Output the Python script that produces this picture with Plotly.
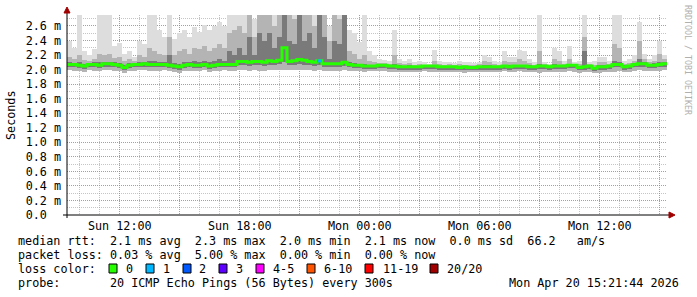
import plotly.graph_objects as go
import pandas as pd

# ---------------- data ----------------
START = "2026-04-19 09:21:44"
END = "2026-04-20 15:21:44"
STEP_MINUTES = 15

median = [
    2.07, 2.07, 2.06, 2.05, 2.07, 2.07, 2.06, 2.08, 2.08, 2.07,
    2.06, 2.03, 2.06, 2.07, 2.07, 2.08, 2.07, 2.07, 2.07, 2.07,
    2.06, 2.05, 2.04, 2.06, 2.07, 2.06, 2.06, 2.07, 2.05, 2.06,
    2.07, 2.07, 2.07, 2.07, 2.11, 2.11, 2.10, 2.11, 2.11, 2.10,
    2.12, 2.11, 2.13, 2.30, 2.11, 2.12, 2.14, 2.13, 2.11, 2.10,
    2.12, 2.08, 2.08, 2.08, 2.08, 2.10, 2.07, 2.06, 2.06, 2.05,
    2.05, 2.05, 2.06, 2.06, 2.05, 2.05, 2.04, 2.04, 2.04, 2.04,
    2.04, 2.05, 2.05, 2.05, 2.04, 2.04, 2.04, 2.04, 2.03, 2.04,
    2.03, 2.03, 2.04, 2.04, 2.04, 2.04, 2.04, 2.05, 2.04, 2.05,
    2.05, 2.05, 2.04, 2.04, 2.05, 2.05, 2.04, 2.05, 2.05, 2.05,
    2.06, 2.06, 2.03, 2.04, 2.05, 2.02, 2.04, 2.04, 2.05, 2.07,
    2.07, 2.04, 2.05, 2.07, 2.08, 2.08, 2.06, 2.06, 2.07, 2.08,
]

smoke_lo = [
    1.99, 1.98, 1.98, 1.97, 1.99, 1.98, 1.98, 1.99, 1.99, 1.98,
    1.98, 1.96, 1.98, 1.98, 1.99, 1.99, 1.98, 1.98, 1.98, 1.99,
    1.98, 1.97, 1.96, 1.98, 1.98, 1.98, 1.98, 1.99, 1.97, 1.98,
    1.98, 1.99, 1.98, 1.98, 1.99, 1.99, 1.98, 1.99, 1.98, 1.98,
    1.99, 1.99, 2.00, 1.99, 1.99, 1.99, 2.00, 1.99, 1.99, 1.98,
    1.99, 1.98, 1.98, 1.98, 1.98, 1.99, 1.98, 1.98, 1.98, 1.97,
    1.98, 1.98, 1.98, 1.98, 1.97, 1.97, 1.97, 1.97, 1.97, 1.97,
    1.97, 1.98, 1.97, 1.97, 1.97, 1.97, 1.97, 1.97, 1.97, 1.96,
    1.97, 1.97, 1.97, 1.97, 1.97, 1.97, 1.97, 1.98, 1.97, 1.97,
    1.98, 1.97, 1.97, 1.97, 1.96, 1.97, 1.97, 1.97, 1.97, 1.97,
    1.98, 1.97, 1.96, 1.97, 1.97, 1.95, 1.96, 1.97, 1.97, 1.97,
    1.98, 1.97, 1.97, 1.98, 1.99, 1.98, 1.98, 1.98, 1.98, 1.99,
]

smoke_hi = [
    2.39, 2.30, 2.80, 2.25, 2.20, 2.28, 2.80, 2.80, 2.80, 2.32,
    2.36, 2.22, 2.25, 2.18, 2.40, 2.35, 2.80, 2.80, 2.55, 2.45,
    2.80, 2.42, 2.50, 2.55, 2.45, 2.58, 2.52, 2.62, 2.55, 2.60,
    2.65, 2.60, 2.80, 2.80, 2.80, 2.80, 2.80, 2.70, 2.80, 2.80,
    2.80, 2.80, 2.80, 2.80, 2.80, 2.80, 2.80, 2.80, 2.80, 2.80,
    2.80, 2.80, 2.60, 2.80, 2.80, 2.80, 2.55, 2.50, 2.38, 2.80,
    2.25, 2.20, 2.15, 2.13, 2.12, 2.55, 2.15, 2.12, 2.14, 2.10,
    2.12, 2.10, 2.08, 2.27, 2.12, 2.10, 2.11, 2.09, 2.12, 2.10,
    2.10, 2.09, 2.11, 2.20, 2.17, 2.12, 2.10, 2.25, 2.18, 2.17,
    2.27, 2.25, 2.15, 2.10, 2.80, 2.10, 2.08, 2.30, 2.25, 2.12,
    2.33, 2.10, 2.12, 2.80, 2.10, 2.12, 2.18, 2.17, 2.12, 2.80,
    2.80, 2.12, 2.14, 2.20, 2.65, 2.22, 2.15, 2.20, 2.39, 2.20,
]

mid_hi = [
    2.18, 2.15, 2.20, 2.13, 2.12, 2.15, 2.22, 2.20, 2.22, 2.16,
    2.18, 2.12, 2.14, 2.12, 2.20, 2.18, 2.30, 2.25, 2.22, 2.20,
    2.45, 2.20, 2.25, 2.28, 2.22, 2.30, 2.28, 2.32, 2.25, 2.30,
    2.35, 2.30, 2.50, 2.55, 2.60, 2.50, 2.80, 2.45, 2.80, 2.80,
    2.80, 2.60, 2.80, 2.80, 2.80, 2.70, 2.80, 2.80, 2.80, 2.60,
    2.80, 2.80, 2.40, 2.80, 2.70, 2.80, 2.25, 2.22, 2.15, 2.20,
    2.12, 2.10, 2.09, 2.09, 2.08, 2.20, 2.09, 2.08, 2.09, 2.07,
    2.08, 2.07, 2.07, 2.12, 2.08, 2.07, 2.08, 2.07, 2.08, 2.07,
    2.07, 2.07, 2.08, 2.12, 2.10, 2.08, 2.07, 2.12, 2.10, 2.10,
    2.14, 2.12, 2.09, 2.07, 2.25, 2.08, 2.06, 2.15, 2.12, 2.08,
    2.15, 2.08, 2.08, 2.45, 2.08, 2.07, 2.10, 2.10, 2.08, 2.35,
    2.30, 2.08, 2.09, 2.12, 2.40, 2.14, 2.10, 2.12, 2.22, 2.14,
]

dark_lo = [
    2.03, 2.03, 2.02, 2.01, 2.03, 2.03, 2.02, 2.04, 2.04, 2.03,
    2.02, 2.00, 2.02, 2.03, 2.03, 2.04, 2.03, 2.03, 2.03, 2.03,
    2.02, 2.01, 2.00, 2.02, 2.03, 2.02, 2.02, 2.03, 2.01, 2.02,
    2.03, 2.03, 2.03, 2.03, 2.06, 2.06, 2.05, 2.06, 2.06, 2.05,
    2.07, 2.06, 2.08, 2.10, 2.06, 2.07, 2.08, 2.07, 2.06, 2.05,
    2.06, 2.04, 2.04, 2.04, 2.04, 2.05, 2.03, 2.02, 2.02, 2.01,
    2.01, 2.01, 2.02, 2.02, 2.01, 2.01, 2.00, 2.00, 2.00, 2.00,
    2.00, 2.01, 2.01, 2.01, 2.00, 2.00, 2.00, 2.00, 1.99, 2.00,
    1.99, 1.99, 2.00, 2.00, 2.00, 2.00, 2.00, 2.01, 2.00, 2.01,
    2.01, 2.01, 2.00, 2.00, 2.01, 2.01, 2.00, 2.01, 2.01, 2.01,
    2.02, 2.02, 1.99, 2.00, 2.01, 1.98, 2.00, 2.00, 2.01, 2.03,
    2.03, 2.00, 2.01, 2.03, 2.04, 2.04, 2.02, 2.02, 2.03, 2.04,
]

dark_hi = [
    2.10, 2.09, 2.10, 2.08, 2.09, 2.10, 2.10, 2.11, 2.11, 2.10,
    2.09, 2.07, 2.09, 2.09, 2.10, 2.11, 2.12, 2.12, 2.11, 2.10,
    2.20, 2.09, 2.08, 2.10, 2.10, 2.12, 2.10, 2.12, 2.10, 2.12,
    2.15, 2.12, 2.25, 2.20, 2.30, 2.20, 2.45, 2.20, 2.50, 2.40,
    2.50, 2.30, 2.45, 2.80, 2.40, 2.35, 2.80, 2.40, 2.50, 2.30,
    2.80, 2.45, 2.15, 2.40, 2.35, 2.80, 2.10, 2.09, 2.08, 2.08,
    2.07, 2.07, 2.07, 2.07, 2.06, 2.08, 2.06, 2.05, 2.06, 2.05,
    2.05, 2.06, 2.06, 2.07, 2.05, 2.05, 2.05, 2.05, 2.05, 2.05,
    2.05, 2.05, 2.05, 2.06, 2.06, 2.05, 2.05, 2.07, 2.06, 2.06,
    2.07, 2.07, 2.06, 2.05, 2.08, 2.06, 2.05, 2.08, 2.07, 2.06,
    2.08, 2.07, 2.05, 2.25, 2.06, 2.04, 2.06, 2.06, 2.06, 2.12,
    2.10, 2.06, 2.06, 2.09, 2.15, 2.10, 2.08, 2.09, 2.10, 2.10,
]

# lost pings (out of 20) per bin
loss = [0] * 50 + [1] + [0] * 69

x_tick_times = ["2026-04-19 12:00", "2026-04-19 15:00", "2026-04-19 18:00",
                "2026-04-19 21:00", "2026-04-20 00:00", "2026-04-20 03:00",
                "2026-04-20 06:00", "2026-04-20 09:00", "2026-04-20 12:00",
                "2026-04-20 15:00"]
x_tick_labels = ["Sun 12:00", "", "Sun 18:00", "", "Mon 00:00", "",
                 "Mon 06:00", "", "Mon 12:00", ""]
y_tick_vals = [0.0, 0.2, 0.4, 0.6, 0.8, 1.0, 1.2, 1.4, 1.6, 1.8, 2.0, 2.2, 2.4, 2.6]
y_tick_labels = ["0.0\u00a0\u00a0", "0.2 m", "0.4 m", "0.6 m", "0.8 m", "1.0 m", "1.2 m",
                 "1.4 m", "1.6 m", "1.8 m", "2.0 m", "2.2 m", "2.4 m", "2.6 m"]

loss_colors = ["#26ff00", "#00b8ff", "#0059ff", "#5e00ff", "#ff00ff", "#ff5500", "#ff0000", "#a00000"]
loss_labels = ["0", "1", "2", "3", "4-5", "6-10", "11-19", "20/20"]

stat_lines = [
    "median rtt:  2.1 ms avg  2.3 ms max  2.0 ms min  2.1 ms now  0.0 ms sd  66.2   am/s",
    "packet loss: 0.03 % avg  5.00 % max  0.00 % min  0.00 % now",
]
probe_line = "probe:       20 ICMP Echo Pings (56 Bytes) every 300s"
stamp_text = "Mon Apr 20 15:21:44 2026"

# ---------------- figure ----------------
W, H = 697, 297
L, R, T, B = 67, 667, 15, 215  # plot box in pixels
MONO = "DejaVu Sans Mono"
FS = 11.75

step = pd.Timedelta(minutes=STEP_MINUTES)
t0 = pd.Timestamp(START)
n = len(median)
starts = [t0 + i * step for i in range(n)]
centers = [s + step / 2 for s in starts]
width_ms = STEP_MINUTES * 60 * 1000


def px(x):
    return (x - L) / (R - L)


def py(y):
    return (B - y) / (B - T)


fig = go.Figure()

for lo_arr, hi_arr, col in [(smoke_lo, smoke_hi, "#dddddd"),
                            (smoke_lo, mid_hi, "#b4b4b4"),
                            (dark_lo, dark_hi, "#7a7a7a")]:
    fig.add_trace(go.Bar(
        x=centers, base=lo_arr, y=[h - l for l, h in zip(lo_arr, hi_arr)],
        width=width_ms, marker=dict(color=col, line=dict(width=0)),
        showlegend=False, hoverinfo="skip"))

# median line, green
fig.add_trace(go.Scatter(
    x=starts + [starts[-1] + step], y=median + [median[-1]],
    mode="lines", line=dict(color=loss_colors[0], width=3, shape="hv"),
    showlegend=False, hoverinfo="skip"))

# loss-coloured segments
for i, lv in enumerate(loss):
    if lv > 0:
        fig.add_trace(go.Scatter(
            x=[starts[i], starts[i] + step], y=[median[i], median[i]],
            mode="lines", line=dict(color=loss_colors[min(lv, 3)], width=3),
            showlegend=False, hoverinfo="skip"))

major_grid = "rgba(230,90,90,0.55)"
minor_grid = "rgba(150,150,150,0.55)"

fig.update_xaxes(
    type="date", range=[START, END],
    tickmode="array", tickvals=x_tick_times, ticktext=x_tick_labels,
    showgrid=True, gridcolor=major_grid, gridwidth=1, griddash="1px,1px",
    minor=dict(tickmode="linear", tick0="2026-04-19 00:00", dtick=3600000,
               showgrid=True, gridcolor=minor_grid, gridwidth=1, griddash="1px,1px"),
    showline=False, zeroline=False, ticks="", ticklabelstandoff=2,
    tickfont=dict(family=MONO, size=FS, color="#000"),
)
fig.update_yaxes(
    range=[0, 2.751],
    tickmode="array", tickvals=y_tick_vals, ticktext=y_tick_labels,
    showgrid=True, gridcolor=major_grid, gridwidth=1, griddash="1px,1px",
    minor=dict(tickmode="linear", tick0=0, dtick=0.1,
               showgrid=True, gridcolor=minor_grid, gridwidth=1, griddash="1px,1px"),
    showline=False, zeroline=False, ticks="", ticklabelstandoff=5,
    tickfont=dict(family=MONO, size=FS, color="#000"),
)

shapes = []
# axis lines
shapes.append(dict(type="line", xref="paper", yref="paper",
                   x0=px(67), x1=px(67), y0=py(218), y1=py(12),
                   line=dict(color="#000", width=1)))
shapes.append(dict(type="line", xref="paper", yref="paper",
                   x0=px(63), x1=px(670), y0=0, y1=0,
                   line=dict(color="#000", width=1)))
# arrows
shapes.append(dict(type="path", xref="paper", yref="paper",
                   path=f"M {px(64)} {py(13)} L {px(70)} {py(13)} L {px(67)} {py(7)} Z",
                   fillcolor="#a00000", line=dict(color="#a00000", width=1)))
shapes.append(dict(type="path", xref="paper", yref="paper",
                   path=f"M {px(669)} {py(212)} L {px(669)} {py(218)} L {px(675)} {py(215)} Z",
                   fillcolor="#a00000", line=dict(color="#a00000", width=1)))

annotations = []


def text(x, y, s, anchor="left", size=FS, color="#000", angle=0):
    annotations.append(dict(xref="paper", yref="paper", x=px(x), y=py(y),
                            text=s.replace(" ", "\u00a0"), showarrow=False,
                            xanchor=anchor, yanchor="middle", textangle=angle,
                            font=dict(family=MONO, size=size, color=color)))


text(16, 241, stat_lines[0])
text(16, 255, stat_lines[1])
text(16, 269, "loss color:")
text(16, 283, probe_line)
text(681, 283, stamp_text, anchor="right")

box_x = [109, 146, 183, 219, 256, 307, 365, 430]
lab_x = [124, 161, 197, 234, 271, 322, 381, 445]
for bx, lx, col, lab in zip(box_x, lab_x, loss_colors, loss_labels):
    shapes.append(dict(type="rect", xref="paper", yref="paper",
                       x0=px(bx), x1=px(bx + 8), y0=py(273), y1=py(264),
                       fillcolor=col, line=dict(color="#000", width=1)))
    text(lx, 269, lab)

# axis title
annotations.append(dict(xref="paper", yref="paper", x=px(11), y=py(115),
                        text="Seconds", showarrow=False, textangle=-90,
                        xanchor="center", yanchor="middle",
                        font=dict(family=MONO, size=FS, color="#000")))
# watermark
annotations.append(dict(xref="paper", yref="paper", x=px(688), y=py(60),
                        text="RRDTOOL / TOBI OETIKER", showarrow=False, textangle=90,
                        xanchor="center", yanchor="middle",
                        font=dict(family=MONO, size=8.3, color="#b0b0b0")))

fig.update_layout(
    width=W, height=H,
    margin=dict(l=L, r=W - R, t=T, b=H - B, pad=0),
    paper_bgcolor="#ffffff", plot_bgcolor="#ffffff",
    barmode="overlay", bargap=0, showlegend=False,
    shapes=shapes, annotations=annotations,
)

fig.write_html("out.html")
